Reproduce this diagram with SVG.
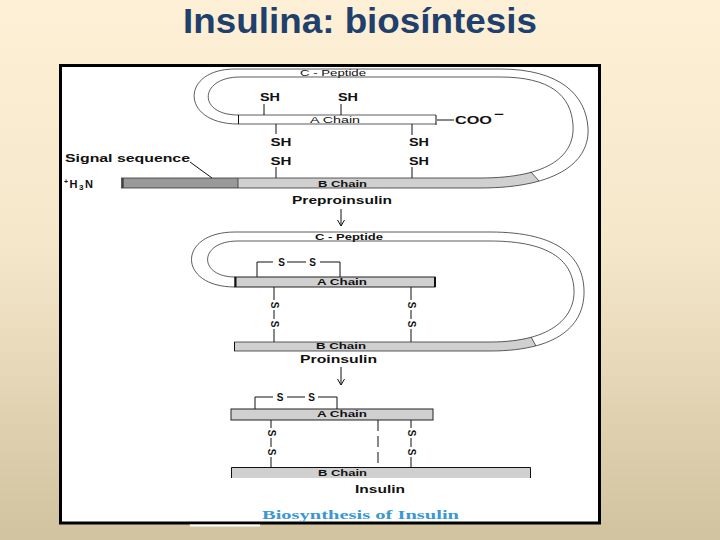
<svg xmlns="http://www.w3.org/2000/svg" width="720" height="540" viewBox="0 0 720 540">
<defs>
<linearGradient id="bg" x1="0" y1="0" x2="0" y2="1">
<stop offset="0" stop-color="#fdf0d6"/>
<stop offset="0.45" stop-color="#f5e7ca"/>
<stop offset="1" stop-color="#d1c39f"/>
</linearGradient>
<marker id="arr" markerWidth="8" markerHeight="8" refX="6" refY="4" orient="auto" markerUnits="userSpaceOnUse">
<path d="M0,0.5 L6,4 L0,7.5" fill="none" stroke="#111" stroke-width="1"/>
</marker>
<style>
.ln{stroke:#111;stroke-width:1;fill:none}
.lt{stroke:#333;stroke-width:0.8;fill:none}
.gray{fill:#d0d0d0}
.chain{fill:#d0d0d0;stroke:#222;stroke-width:1}
.b{font-family:"Liberation Sans",Arial,sans-serif;font-weight:bold;fill:#111}
.r{font-family:"Liberation Sans",Arial,sans-serif;font-weight:normal;fill:#111}
.s9{font-size:9px}
.s10{font-size:10px}
.s11{font-size:11px}
.mid{text-anchor:middle}
</style>
</defs>

<g id="background">
<rect x="0" y="0" width="720" height="540" fill="url(#bg)"/>
</g>

<g id="title">
<text x="360" y="32.5" text-anchor="middle" font-family="'Liberation Sans',Arial,sans-serif" font-weight="700" font-size="34.5" fill="#1f3f6d" textLength="354" lengthAdjust="spacingAndGlyphs">Insulina: biosíntesis</text>
</g>

<g id="frame">
<rect x="60.5" y="65.5" width="539" height="457.5" fill="#ffffff" stroke="#000" stroke-width="3"/>
<rect x="190" y="524.5" width="70" height="2" fill="#ffffff"/>
</g>

<g id="preproinsulin">
<rect x="121" y="178" width="117" height="10" fill="#999999"/>
<path class="gray" d="M238,178 L480,178 C501,178 518,176 531,172 L539,181 C522,186 502,188 480,188 L238,188 Z"/>
<path class="lt" d="M121,188 L480,188 C560,188 590,160 588,128 C586,95 560,69 500,69 L235,69 C180,69 180,124 238,124"/>
<path class="lt" d="M121,178 L480,178 C550,178 575,155 573,125 C571,95 550,77 500,77 L240,77 C199,77 197,115 238,115"/>
<line class="lt" x1="531" y1="172" x2="539" y2="181"/>
<line x1="122.5" y1="178" x2="122.5" y2="188" stroke="#444" stroke-width="2.5"/>
<line class="lt" x1="238" y1="178" x2="238" y2="188"/>
<line class="lt" x1="238" y1="124" x2="436" y2="124"/>
<line class="lt" x1="238" y1="115" x2="436" y2="115"/>
<line class="ln" x1="238.5" y1="115" x2="238.5" y2="124"/>
<line class="ln" x1="436" y1="115" x2="436" y2="125" stroke-width="1.5"/>
<line class="ln" x1="437" y1="120" x2="454" y2="120"/>
<text class="r s9" x="300" y="76" textLength="66" lengthAdjust="spacingAndGlyphs">C - Peptide</text>
<text class="r s9" x="310" y="122.5" textLength="50" lengthAdjust="spacingAndGlyphs">A Chain</text>
<text class="b s9" x="318" y="186.5" textLength="49" lengthAdjust="spacingAndGlyphs">B Chain</text>
<text class="b s11" x="455" y="124" textLength="37" lengthAdjust="spacingAndGlyphs">COO</text>
<text class="b s11" x="494" y="118" textLength="10" lengthAdjust="spacingAndGlyphs">−</text>
<line class="ln" x1="264" y1="104" x2="264" y2="115"/>
<text class="b s10 mid" x="270" y="101" textLength="20" lengthAdjust="spacingAndGlyphs">SH</text>
<line class="ln" x1="341" y1="104" x2="341" y2="115"/>
<text class="b s10 mid" x="348" y="101" textLength="20" lengthAdjust="spacingAndGlyphs">SH</text>
<line class="ln" x1="276" y1="124" x2="276" y2="134"/>
<text class="b s10 mid" x="281" y="146" textLength="21" lengthAdjust="spacingAndGlyphs">SH</text>
<text class="b s10 mid" x="281" y="165" textLength="21" lengthAdjust="spacingAndGlyphs">SH</text>
<line class="ln" x1="276" y1="167" x2="276" y2="178"/>
<line class="ln" x1="412" y1="124" x2="412" y2="135"/>
<text class="b s10 mid" x="419" y="146" textLength="20" lengthAdjust="spacingAndGlyphs">SH</text>
<text class="b s10 mid" x="419" y="165" textLength="20" lengthAdjust="spacingAndGlyphs">SH</text>
<line class="ln" x1="412" y1="167" x2="412" y2="178"/>
<text class="b s10" x="65" y="162" textLength="125" lengthAdjust="spacingAndGlyphs">Signal sequence</text>
<line class="ln" x1="190" y1="162" x2="212" y2="178"/>
<text class="b s11" x="64" y="188" letter-spacing="1.5"><tspan font-size="7" dy="-4">+</tspan><tspan dy="4">H</tspan><tspan font-size="8" dy="2">3</tspan><tspan dy="-2">N</tspan></text>
<text class="b s11" x="292" y="204" textLength="100" lengthAdjust="spacingAndGlyphs">Preproinsulin</text>
</g>

<g id="proinsulin">
<path class="gray" d="M234,342 L490,342 C506,342 520,340 531,337 L536,346 C523,349 508,351 490,351 L234,351 Z"/>
<path class="lt" d="M234,351 L490,351 C565,351 585,320 584,290 C583,258 560,232 490,232 L235,232 C177,232 177,287 235,287"/>
<path class="lt" d="M234,342 L490,342 C555,342 575,315 574,290 C573,263 553,241 490,241 L238,241 C198,241 198,277 235,277"/>
<line class="lt" x1="531" y1="337" x2="536" y2="346"/>
<line class="ln" x1="234.5" y1="342" x2="234.5" y2="351"/>
<rect class="chain" x="235" y="277" width="200" height="10"/>
<line x1="235.5" y1="277" x2="235.5" y2="287" stroke="#111" stroke-width="2"/>
<line x1="435" y1="277" x2="435" y2="287" stroke="#111" stroke-width="2"/>
<polyline class="ln" points="257,277 257,262 273,262"/>
<line class="ln" x1="287" y1="262" x2="306" y2="262"/>
<polyline class="ln" points="320,262 340,262 340,277"/>
<text class="b s10 mid" x="281.5" y="266">S</text>
<text class="b s10 mid" x="312.5" y="266">S</text>
<line class="ln" x1="274" y1="287" x2="274" y2="300"/>
<line class="ln" x1="274" y1="310" x2="274" y2="319"/>
<line class="ln" x1="274" y1="329" x2="274" y2="342"/>
<text class="b s10 mid" x="274" y="305" dominant-baseline="central" transform="rotate(90 274 305)">S</text>
<text class="b s10 mid" x="274" y="324" dominant-baseline="central" transform="rotate(90 274 324)">S</text>
<line class="ln" x1="411" y1="287" x2="411" y2="300"/>
<line class="ln" x1="411" y1="310" x2="411" y2="319"/>
<line class="ln" x1="411" y1="329" x2="411" y2="342"/>
<text class="b s10 mid" x="411" y="305" dominant-baseline="central" transform="rotate(90 411 305)">S</text>
<text class="b s10 mid" x="411" y="324" dominant-baseline="central" transform="rotate(90 411 324)">S</text>
<text class="b s9" x="315" y="239.5" textLength="68" lengthAdjust="spacingAndGlyphs">C - Peptide</text>
<text class="b s9" x="317" y="285" textLength="50" lengthAdjust="spacingAndGlyphs">A Chain</text>
<text class="b s9" x="316" y="348.5" textLength="50" lengthAdjust="spacingAndGlyphs">B Chain</text>
<text class="b s11" x="300" y="363" textLength="77" lengthAdjust="spacingAndGlyphs">Proinsulin</text>
</g>

<g id="insulin">
<rect class="chain" x="231" y="409" width="202" height="11"/>
<path class="gray" d="M231,467 H531 V478 H231 Z"/>
<path class="ln" d="M231.5,478 V467.5 H530.5 V478"/>
<polyline class="ln" points="255,409 255,397 273,397"/>
<line class="ln" x1="287" y1="397" x2="305" y2="397"/>
<polyline class="ln" points="318,397 337,397 337,409"/>
<text class="b s10 mid" x="280" y="401">S</text>
<text class="b s10 mid" x="311.5" y="401">S</text>
<line class="ln" x1="271" y1="420" x2="271" y2="428"/>
<line class="ln" x1="271" y1="438" x2="271" y2="447"/>
<line class="ln" x1="271" y1="457" x2="271" y2="467"/>
<text class="b s10 mid" x="271" y="433" dominant-baseline="central" transform="rotate(90 271 433)">S</text>
<text class="b s10 mid" x="271" y="452" dominant-baseline="central" transform="rotate(90 271 452)">S</text>
<line class="ln" x1="378" y1="420" x2="378" y2="467" stroke-dasharray="11 5"/>
<line class="ln" x1="411" y1="420" x2="411" y2="428"/>
<line class="ln" x1="411" y1="438" x2="411" y2="447"/>
<line class="ln" x1="411" y1="457" x2="411" y2="467"/>
<text class="b s10 mid" x="411" y="433" dominant-baseline="central" transform="rotate(90 411 433)">S</text>
<text class="b s10 mid" x="411" y="452" dominant-baseline="central" transform="rotate(90 411 452)">S</text>
<text class="b s9" x="317" y="417" textLength="50" lengthAdjust="spacingAndGlyphs">A Chain</text>
<text class="b s9" x="318" y="476" textLength="49" lengthAdjust="spacingAndGlyphs">B Chain</text>
<text class="b s11" x="355" y="492.5" textLength="50" lengthAdjust="spacingAndGlyphs">Insulin</text>
</g>

<g id="connectors">
<line class="ln" x1="341" y1="209" x2="341" y2="226" marker-end="url(#arr)"/>
<line class="ln" x1="341" y1="367" x2="341" y2="385" marker-end="url(#arr)"/>
</g>

<g id="caption">
<text x="262" y="518.5" font-family="'Liberation Serif','DejaVu Serif',serif" font-weight="bold" font-size="12.5" fill="#3a98d3" textLength="197" lengthAdjust="spacingAndGlyphs">Biosynthesis of Insulin</text>
</g>
</svg>
